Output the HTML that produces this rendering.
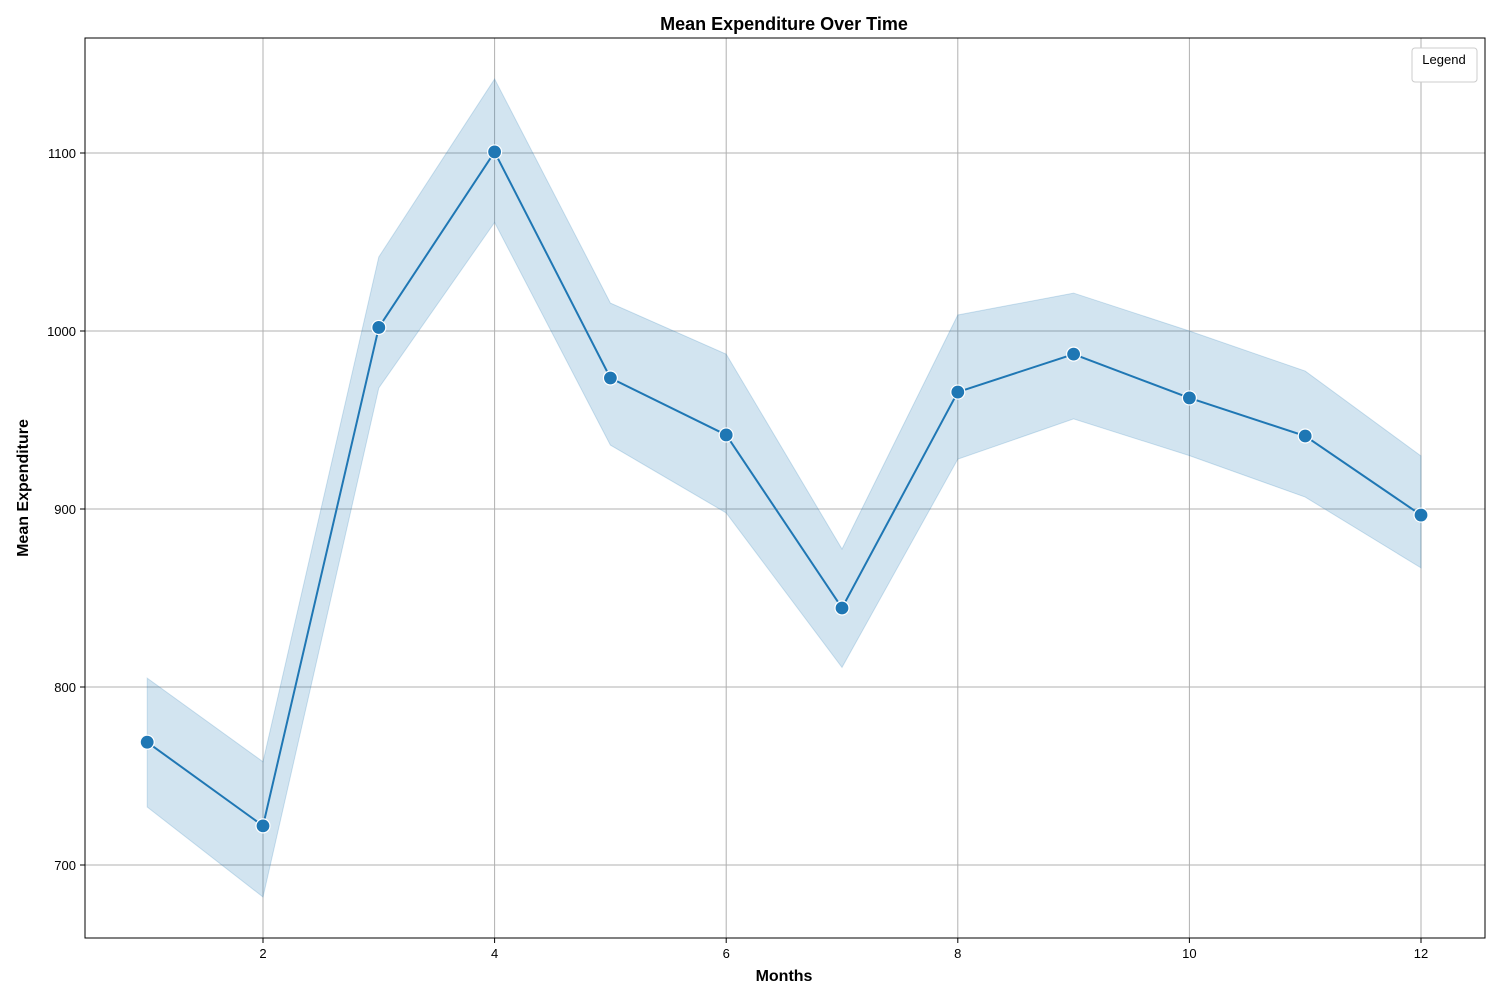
<!DOCTYPE html>
<html><head><meta charset="utf-8"><style>
body{margin:0;background:#fff;}
svg text{font-family:"Liberation Sans","DejaVu Sans",sans-serif;}
</style></head><body>
<svg id="chart" width="1500" height="1000">
<rect width="1500" height="1000" fill="#fff"/>
<g id="grid"></g>
<g id="band"></g>
<g id="series"></g>
<rect x="85" y="38" width="1400" height="900" fill="none" stroke="#000" stroke-width="1"/>
<g id="xticks"></g>
<g id="yticks"></g>
<text x="784" y="30" text-anchor="middle" font-size="18" font-weight="bold">Mean Expenditure Over Time</text>
<text x="784" y="981" text-anchor="middle" font-size="16" font-weight="bold">Months</text>
<text transform="translate(28,488) rotate(-90)" text-anchor="middle" font-size="16" font-weight="bold">Mean Expenditure</text>
<g>
<rect x="1412" y="48" width="65" height="34" rx="3" fill="#fff" stroke="#ccc"/>
<text x="1444" y="64" text-anchor="middle" font-size="13">Legend</text>
</g>
</svg>
<script>
const months=[1,2,3,4,5,6,7,8,9,10,11,12];
const meanValues=[769,722,1002,1100.6,973.6,941.6,844.4,965.7,987,962.4,941,896.6];
const upperValues=[805,758,1041.6,1141.6,1015.7,987,877.5,1009,1021.3,1000,977.5,929.8];
const lowerValues=[732.6,682,968,1061,935.9,897.8,811,928,950.6,930,906.7,866.9];
const xTicks=[2,4,6,8,10,12];
const yTicks=[700,800,900,1000,1100];
const NS="http://www.w3.org/2000/svg";
const x=v=>263+(v-2)*115.8;
const y=v=>865-(v-700)*1.78;
function mk(tag,attrs,parent){const e=document.createElementNS(NS,tag);for(const k in attrs)e.setAttribute(k,attrs[k]);document.getElementById(parent).appendChild(e);return e;}
xTicks.forEach(t=>{
 const g=mk('line',{x1:x(t),x2:x(t),y1:38,y2:938,stroke:'#b0b0b0','stroke-width':1},'grid');
 
 
 const tk=mk('line',{x1:x(t),x2:x(t),y1:938,y2:943,stroke:'#000'},'xticks');
 
 
 const tx=mk('text',{x:x(t),y:958,'text-anchor':'middle','font-size':13},'xticks');
 tx.textContent=t;
 
 
});
yTicks.forEach(t=>{
 const g=mk('line',{x1:85,x2:1485,y1:y(t),y2:y(t),stroke:'#b0b0b0','stroke-width':1},'grid');
 
 
 const tk=mk('line',{x1:80,x2:85,y1:y(t),y2:y(t),stroke:'#000'},'yticks');
 
 
 const tx=mk('text',{x:76,y:y(t)+5,'text-anchor':'end','font-size':13},'yticks');
 tx.textContent=t;
 
 
});
let d=months.map((m,i)=>(i?'L':'M')+x(m)+','+y(upperValues[i])).join('');
for(let i=months.length-1;i>=0;i--)d+='L'+x(months[i])+','+y(lowerValues[i]);
const band=mk('path',{d:d+'Z',fill:'#1f77b4','fill-opacity':0.2,stroke:'#1f77b4','stroke-opacity':0.2},'band');


const line=mk('path',{d:months.map((m,i)=>(i?'L':'M')+x(m)+','+y(meanValues[i])).join(''),fill:'none',stroke:'#1f77b4','stroke-width':2},'series');


months.forEach((m,i)=>{
 const c=mk('circle',{cx:x(m),cy:y(meanValues[i]),r:7,fill:'#1f77b4',stroke:'#fff','stroke-width':1.2},'series');
 
 
});
</script>
</body></html>
